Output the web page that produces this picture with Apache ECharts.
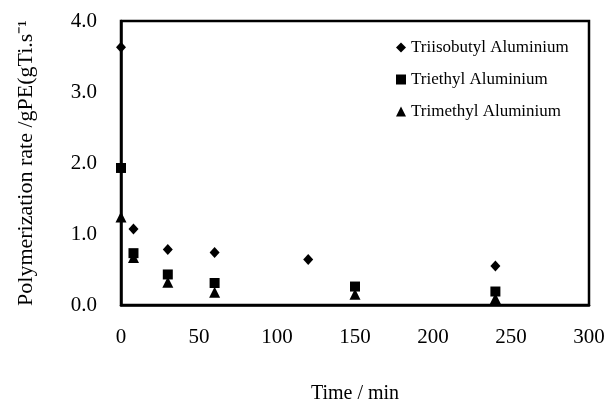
<!DOCTYPE html>
<html><head><meta charset="utf-8">
<script src="https://cdn.jsdelivr.net/npm/echarts@6/dist/echarts.min.js"></script>
<style>html,body{margin:0;padding:0;background:#fff}#c{width:605px;height:403px}</style>
</head><body><div id="c"></div>
<script>
const seriesNames = ["Triisobutyl Aluminium", "Triethyl Aluminium", "Trimethyl Aluminium"];
const timeTIBA = [0, 8, 30, 60, 120, 240];
const rateTIBA = [3.63, 1.07, 0.78, 0.74, 0.64, 0.55];
const timeTEA = [0, 8, 30, 60, 150, 240];
const rateTEA = [1.93, 0.73, 0.43, 0.31, 0.26, 0.19];
const timeTMA = [0, 8, 30, 60, 150, 240];
const rateTMA = [1.24, 0.67, 0.32, 0.18, 0.15, 0.09];
const xTicks = [0, 50, 100, 150, 200, 250, 300];
const yTicks = [0, 1, 2, 3, 4];

const pair = (xs, ys) => xs.map((x, i) => [x, ys[i]]);
const font = "'Liberation Serif', 'Times New Roman', serif";
const chart = echarts.init(document.getElementById('c'));
chart.setOption({
  animation: false,
  backgroundColor: '#fff',
  grid: { left: 121, right: 16, top: 21, bottom: 98, show: true, borderColor: '#000', borderWidth: 2.5,
          containLabel: false, outerBoundsMode: 'none' },
  legend: {
    orient: 'vertical', left: 391, top: 34, itemWidth: 10, itemHeight: 10, itemGap: 15,
    textStyle: { fontFamily: font, fontSize: 17, color: '#000', lineHeight: 17 },
    data: [
      { name: seriesNames[0], icon: 'diamond' },
      { name: seriesNames[1], icon: 'rect' },
      { name: seriesNames[2], icon: 'triangle' }
    ]
  },
  xAxis: {
    type: 'value', min: xTicks[0], max: xTicks[xTicks.length - 1], interval: 50,
    name: 'Time / min', nameLocation: 'middle', nameGap: 79,
    nameTextStyle: { fontFamily: font, fontSize: 20, color: '#000' },
    axisLine: { lineStyle: { color: '#000', width: 2.5 } },
    axisTick: { show: false },
    axisLabel: { fontFamily: font, fontSize: 21, color: '#000', margin: 22 },
    splitLine: { show: false }
  },
  yAxis: {
    type: 'value', min: yTicks[0], max: yTicks[yTicks.length - 1], interval: 1,
    name: 'Polymerization rate /gPE(gTi.s\u207B\u00B9', nameLocation: 'middle', nameGap: 84,
    nameTextStyle: { fontFamily: font, fontSize: 22, color: '#000' },
    axisLine: { lineStyle: { color: '#000', width: 2.5 } },
    axisTick: { show: false },
    axisLabel: { fontFamily: font, fontSize: 21, color: '#000', margin: 24, formatter: v => v.toFixed(1) },
    splitLine: { show: false }
  },
  series: [
    { name: seriesNames[0], type: 'scatter', symbol: 'diamond', symbolSize: [10, 11], itemStyle: { color: '#000', opacity: 1 }, data: pair(timeTIBA, rateTIBA), z: 3 },
    { name: seriesNames[1], type: 'scatter', symbol: 'rect', symbolSize: 10, itemStyle: { color: '#000', opacity: 1 }, data: pair(timeTEA, rateTEA), z: 4 },
    { name: seriesNames[2], type: 'scatter', symbol: 'triangle', symbolSize: 11, itemStyle: { color: '#000', opacity: 1 }, data: pair(timeTMA, rateTMA), z: 5 }
  ]
});
</script></body></html>
